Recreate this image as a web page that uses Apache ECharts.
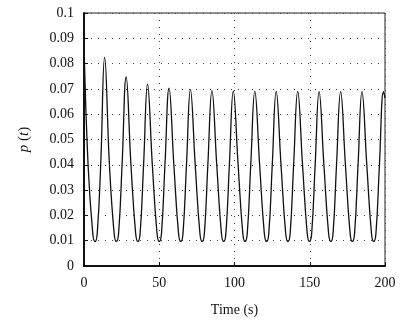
<!DOCTYPE html>
<html><head><meta charset="utf-8">
<script src="https://cdn.jsdelivr.net/npm/echarts@6/dist/echarts.min.js"></script>
<style>html,body{margin:0;padding:0;background:#fff}#c{width:412px;height:325px}</style>
</head><body><div id="c"></div>
<script>
// time (s)
const timeS = [
  0, 2.7, 5.8, 7.3, 8.8, 11.1,
  13.7, 16.9, 20.0, 21.5, 23.0, 25.3,
  28.0, 31.2, 34.3, 35.8, 37.3, 39.6,
  42.2, 45.4, 48.5, 50.0, 51.5, 53.8,
  56.5, 59.7, 62.8, 64.3, 65.8, 68.1,
  70.7, 73.9, 77.0, 78.5, 80.0, 82.3,
  85.0, 88.2, 91.3, 92.8, 94.3, 96.6,
  99.2, 102.4, 105.5, 107.0, 108.5, 110.8,
  113.5, 116.7, 119.8, 121.3, 122.8, 125.1,
  127.7, 130.9, 134.0, 135.5, 137.0, 139.3,
  142.0, 145.2, 148.3, 149.8, 151.3, 153.6,
  156.2, 159.4, 162.5, 164.0, 165.5, 167.8,
  170.5, 173.7, 176.8, 178.3, 179.8, 182.1,
  184.7, 187.9, 191.0, 192.5, 194.0, 196.3,
  199.0, 200
];
// p(t) values
const pValues = [
  0.088, 0.040, 0.013, 0.0096, 0.013, 0.040,
  0.0825, 0.040, 0.013, 0.0097, 0.013, 0.040,
  0.0747, 0.040, 0.013, 0.0097, 0.013, 0.040,
  0.0719, 0.040, 0.013, 0.0097, 0.013, 0.040,
  0.0703, 0.040, 0.013, 0.0097, 0.013, 0.040,
  0.0697, 0.040, 0.013, 0.0097, 0.013, 0.040,
  0.0693, 0.040, 0.013, 0.0097, 0.013, 0.040,
  0.0691, 0.040, 0.013, 0.0097, 0.013, 0.040,
  0.0690, 0.040, 0.013, 0.0097, 0.013, 0.040,
  0.0690, 0.040, 0.013, 0.0097, 0.013, 0.040,
  0.0690, 0.040, 0.013, 0.0097, 0.013, 0.040,
  0.0689, 0.040, 0.013, 0.0097, 0.013, 0.040,
  0.0689, 0.040, 0.013, 0.0097, 0.013, 0.040,
  0.0689, 0.040, 0.013, 0.0097, 0.013, 0.040,
  0.0689, 0.0665
];
const xTicks = [0, 50, 100, 150, 200];
const yTicks = [0, 0.01, 0.02, 0.03, 0.04, 0.05, 0.06, 0.07, 0.08, 0.09, 0.1];

const FONT = '"Liberation Serif", "Times New Roman", serif';
const series = timeS.map((t, i) => [t, pValues[i]]);
const chart = echarts.init(document.getElementById('c'), null, {renderer: 'canvas'});
const gridLine = {show: true, lineStyle: {color: '#444', width: 1, type: [1, 6]}};
chart.setOption({
  animation: false,
  grid: {left: 84, right: 27, top: 13, bottom: 59, show: true, borderColor: '#222', borderWidth: 1},
  xAxis: [{
    type: 'value', min: xTicks[0], max: xTicks[xTicks.length - 1], interval: 50,
    axisLine: {show: true, lineStyle: {color: '#111', width: 2}},
    axisTick: {show: true, inside: true, length: 4, lineStyle: {color: '#111'}},
    axisLabel: {color: '#111', fontFamily: FONT, fontSize: 14, margin: 10},
    splitLine: gridLine,
    name: 'Time (s)', nameLocation: 'middle', nameGap: 37,
    nameTextStyle: {color: '#111', fontFamily: FONT, fontSize: 14}
  }],
  yAxis: [{
    type: 'value', min: yTicks[0], max: yTicks[yTicks.length - 1], interval: 0.01,
    axisLine: {show: true, lineStyle: {color: '#111', width: 2}},
    axisTick: {show: true, inside: true, length: 4, lineStyle: {color: '#111'}},
    axisLabel: {color: '#111', fontFamily: FONT, fontSize: 14, margin: 10,
      formatter: v => String(+v.toFixed(2))},
    splitLine: gridLine,
    name: '{i|p} ({i|t})', nameLocation: 'middle', nameGap: 52, nameRotate: 90,
    nameTextStyle: {color: '#111', fontFamily: FONT, fontSize: 15,
      rich: {i: {fontStyle: 'italic', fontFamily: FONT, fontSize: 15, color: '#111'}}}
  }],
  series: [{
    type: 'line', data: series, smooth: 0.45, showSymbol: false,
    lineStyle: {color: '#111', width: 1.3}
  }]
});
</script></body></html>
